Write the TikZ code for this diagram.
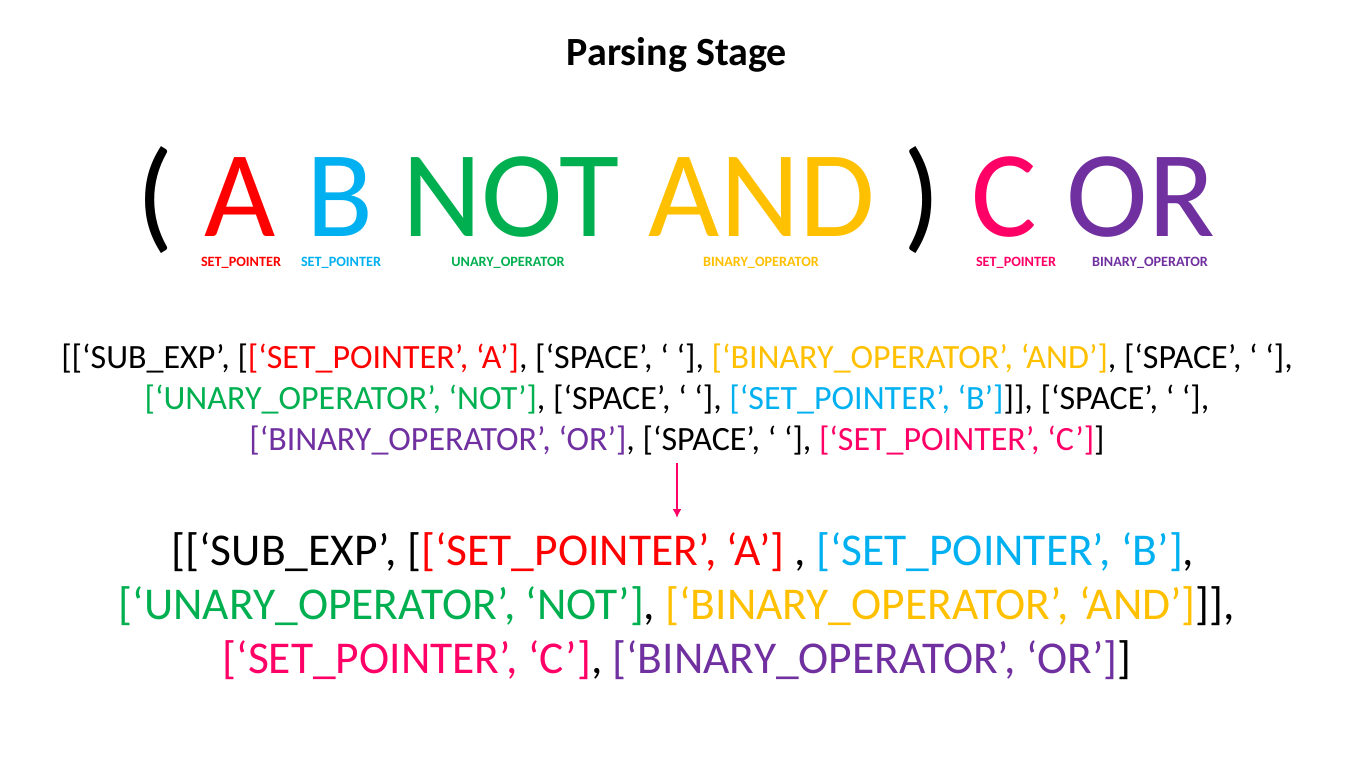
\documentclass[tikz,border=0pt]{standalone}
\usepackage{fontspec}
\setmainfont{Carlito}
\usetikzlibrary{arrows.meta}
\definecolor{cred}{HTML}{FF0000}
\definecolor{cblue}{HTML}{00B0F0}
\definecolor{cgreen}{HTML}{00B050}
\definecolor{cgold}{HTML}{FFC000}
\definecolor{cpink}{HTML}{FF0066}
\definecolor{cpurple}{HTML}{7030A0}
\tikzset{
  title/.style={anchor=base, inner sep=0pt, font=\fontsize{40}{46}\selectfont\bfseries},
  token/.style={anchor=base, inner sep=0pt, text depth=0pt, font=\fontsize{123}{130}\selectfont},
  tag/.style={anchor=base, inner sep=0pt, font=\fontsize{14.2}{16}\selectfont\bfseries},
  listline/.style={anchor=base, inner sep=0pt, font=\fontsize{34}{40}\selectfont},
  bigline/.style={anchor=base, inner sep=0pt, font=\fontsize{45.5}{52}\selectfont},
  flow/.style={draw=cpink, line width=2pt, -{Latex[length=9pt,width=9pt]}}
}
\begin{document}
\begin{tikzpicture}[x=1pt,y=-1pt]
\useasboundingbox[fill=white] (0,0) rectangle (1352,757);

\node[title] (ttl) at (677,66) {Parsing Stage};

% expression tokens
\node[token] (lp)  at (155,236) {(};
\node[token, text=cred] (tA) at (240,236) {A};
\node[token, text=cblue] (tB) at (340,236) {B};
\node[token, text=cgreen] (tNOT) at (511,236) {NOT};
\node[token, text=cgold] (tAND) at (762,236) {AND};
\node[token] (rp)  at (922,236) {)};
\node[token, text=cpink] (tC) at (1004,236) {C};
\node[token, text=cpurple] (tOR) at (1141,236) {OR};

% token types
\node[tag, text=cred] (gA) at (241,266) {SET\_POINTER};
\node[tag, text=cblue] (gB) at (341,266) {SET\_POINTER};
\node[tag, text=cgreen] (gNOT) at (508,266) {UNARY\_OPERATOR};
\node[tag, text=cgold] (gAND) at (761,266) {BINARY\_OPERATOR};
\node[tag, text=cpink] (gC) at (1016,266) {SET\_POINTER};
\node[tag, text=cpurple] (gOR) at (1150,266) {BINARY\_OPERATOR};

% raw token list
\node[listline] (l1) at (677,368) {[[‘SUB\_EXP’, [\textcolor{cred}{[‘SET\_POINTER’, ‘A’]}, [‘SPACE’, ‘ ‘], \textcolor{cgold}{[‘BINARY\_OPERATOR’, ‘AND’]}, [‘SPACE’, ‘ ‘],};
\node[listline] (l2) at (677,409) {\textcolor{cgreen}{[‘UNARY\_OPERATOR’, ‘NOT’]}, [‘SPACE’, ‘ ‘], \textcolor{cblue}{[‘SET\_POINTER’, ‘B’]}]], [‘SPACE’, ‘ ‘],};
\node[listline] (l3) at (677,450) {\textcolor{cpurple}{[‘BINARY\_OPERATOR’, ‘OR’]}, [‘SPACE’, ‘ ‘], \textcolor{cpink}{[‘SET\_POINTER’, ‘C’]}]};

\coordinate (arrS) at (677,463);
\coordinate (arrE) at (677,518);
\draw[flow] (arrS) -- (arrE);

% parsed list
\node[bigline] (b1) at (683,565) {[[‘SUB\_EXP’, [\textcolor{cred}{[‘SET\_POINTER’, ‘A’]} , \textcolor{cblue}{[‘SET\_POINTER’, ‘B’]},};
\node[bigline] (b2) at (677,619) {\textcolor{cgreen}{[‘UNARY\_OPERATOR’, ‘NOT’]}, \textcolor{cgold}{[‘BINARY\_OPERATOR’, ‘AND’]}]],};
\node[bigline] (b3) at (677,673) {\textcolor{cpink}{[‘SET\_POINTER’, ‘C’]}, \textcolor{cpurple}{[‘BINARY\_OPERATOR’, ‘OR’]}]};
\end{tikzpicture}
\end{document}
